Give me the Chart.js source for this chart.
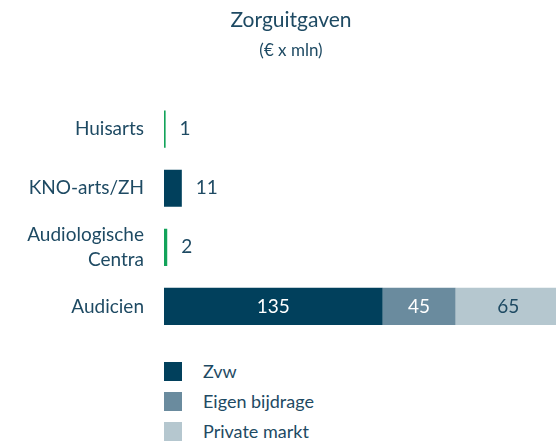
<!DOCTYPE html>
<html>
<head>
<meta charset="utf-8">
<script src="https://cdn.jsdelivr.net/npm/chart.js@4"></script>
<style>
  html, body { margin: 0; padding: 0; background: #fff; }
  #wrap { position: relative; width: 556px; height: 444px; }
  #chart-box { position: absolute; left: 0; top: 0; width: 556px; height: 344px; }
  #legend { position: absolute; left: 164px; top: 362px; margin: 0; padding: 0; list-style: none;
    font-family: Lato, sans-serif; font-size: 18px; color: #1e4a63; }
  #legend li { height: 30px; display: flex; align-items: flex-start; }
  #legend span.box { width: 18px; height: 19px; display: inline-block; margin-right: 21px; }
  #legend span.txt { line-height: 19px; }
</style>
</head>
<body>
<div id="wrap">
  <div id="chart-box"><canvas id="chart-zorg"></canvas></div>
  <ul id="legend"></ul>
</div>
<script>
const categories = ['Huisarts', 'KNO-arts/ZH', ['Audiologische', 'Centra'], 'Audicien'];
const zvw = [1, 11, 2, 135];
const eigenBijdrage = [null, null, null, 45];
const privateMarkt = [null, null, null, 65];

const textColor = '#1e4a63';
const navy = '#01405c';
const green = '#12a35a';

// waarden in of naast de balken
const valueLabels = {
    id: 'valueLabels',
    afterDatasetsDraw(chart) {
        const ctx = chart.ctx;
        ctx.save();
        ctx.font = '19px Lato, sans-serif';
        ctx.textBaseline = 'middle';
        chart.data.datasets.forEach((ds, i) => {
            const meta = chart.getDatasetMeta(i);
            meta.data.forEach((bar, j) => {
                const v = ds.data[j];
                if (v === null) return;
                const w = bar.x - bar.base;
                if (w > 40) {
                    ctx.textAlign = 'center';
                    ctx.fillStyle = ds.labelColor;
                    ctx.fillText(v, (bar.x + bar.base) / 2, bar.y);
                } else {
                    ctx.textAlign = 'left';
                    ctx.fillStyle = textColor;
                    ctx.fillText(v, bar.x + 14, bar.y);
                }
            });
        });
        ctx.restore();
    }
};

const data = {
    labels: categories,
    datasets: [{
        label: 'Zvw',
        data: zvw,
        backgroundColor: [green, navy, green, navy],
        legendColor: navy,
        labelColor: '#ffffff',
    }, {
        label: 'Eigen bijdrage',
        data: eigenBijdrage,
        backgroundColor: '#6a8b9e',
        legendColor: '#6a8b9e',
        labelColor: '#ffffff',
    }, {
        label: 'Private markt',
        data: privateMarkt,
        backgroundColor: '#b5c7cf',
        legendColor: '#b5c7cf',
        labelColor: textColor,
    }]
};

const options = {
    indexAxis: 'y',
    responsive: true,
    maintainAspectRatio: false,
    animation: false,
    datasets: {
        bar: {
            categoryPercentage: 1,
            barPercentage: 0.63,
            borderWidth: 0,
        }
    },
    layout: {
        padding: { left: 26, right: 0, top: 0, bottom: 8 }
    },
    scales: {
        x: {
            stacked: true,
            min: 0,
            max: 242,
            display: false,
        },
        y: {
            stacked: true,
            grid: { display: false },
            border: { display: false },
            afterFit: (scale) => {
                scale.width = 138;
                scale.paddingTop = 0;
                scale.paddingBottom = 0;
            },
            ticks: {
                color: textColor,
                padding: 12,
                font: { family: 'Lato', size: 19, lineHeight: 1.35 },
            }
        }
    },
    plugins: {
        legend: { display: false },
        tooltip: { enabled: false },
        title: {
            display: true,
            text: 'Zorguitgaven',
            color: textColor,
            font: { family: 'Lato', size: 21, weight: 'normal' },
            padding: { top: 8, bottom: 0 },
        },
        subtitle: {
            display: true,
            text: '(€ x mln)',
            color: textColor,
            font: { family: 'Lato', size: 17 },
            padding: { top: 7, bottom: 39 },
        }
    }
};

const chart = new Chart(document.getElementById('chart-zorg'), {
    type: 'bar',
    data,
    options,
    plugins: [valueLabels]
});

const legend = document.getElementById('legend');
chart.data.datasets.forEach(ds => {
    const li = document.createElement('li');
    li.innerHTML = '<span class="box" style="background:' + ds.legendColor + '"></span><span class="txt">' + ds.label + '</span>';
    legend.appendChild(li);
});
</script>
</body>
</html>
